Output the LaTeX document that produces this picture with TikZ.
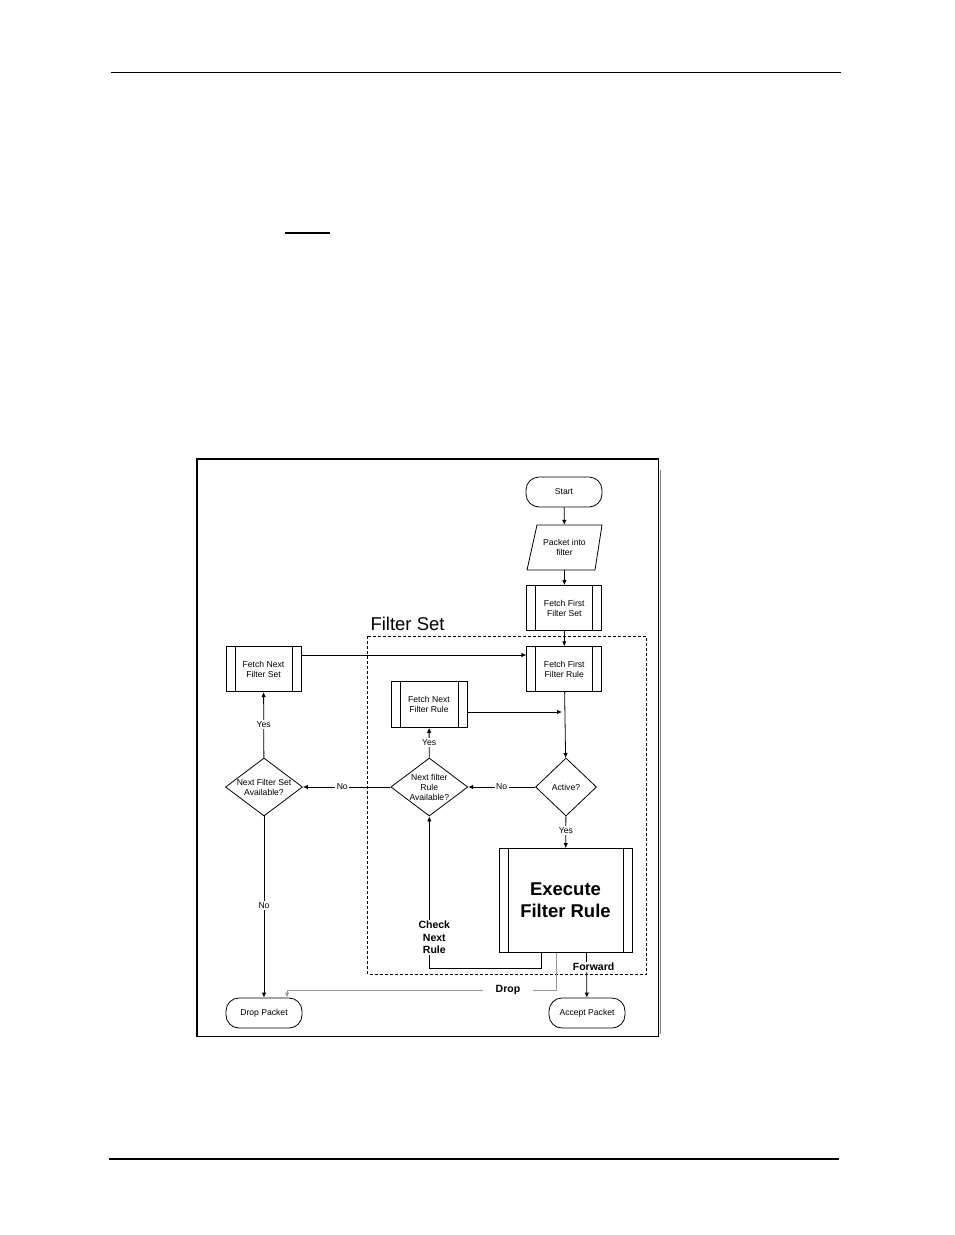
\documentclass[tikz,border=0pt]{standalone}
\usepackage{fontspec}
\setmainfont{Liberation Sans}
\usetikzlibrary{shapes.geometric,arrows.meta}
\tikzset{
  sm/.style={font=\fontsize{8.6}{10}\selectfont, align=center},
  conn/.style={draw=black, line width=0.8pt, -{Latex[length=5pt,width=4.5pt]}},
  term/.style={draw, line width=0.8pt, rounded corners=13pt, minimum width=76pt, minimum height=30pt, inner sep=0pt, sm},
  proc/.style={draw, line width=0.8pt, minimum width=75pt, minimum height=45pt, inner sep=0pt, sm,
    path picture={
      \draw[line width=0.8pt] ([xshift=9pt]path picture bounding box.north west) -- ([xshift=9pt]path picture bounding box.south west);
      \draw[line width=0.8pt] ([xshift=-9pt]path picture bounding box.north east) -- ([xshift=-9pt]path picture bounding box.south east);
    }},
  dia/.style={draw, diamond, line width=0.8pt, inner sep=0pt},
  lbl/.style={fill=white, inner sep=1.5pt, sm},
  blbl/.style={fill=white, inner sep=1pt, font=\fontsize{10.5}{12.5}\selectfont\bfseries, align=center},
}
\begin{document}
\begin{tikzpicture}[x=1pt,y=-1pt]
\useasboundingbox (0,0) rectangle (954,1235);
% page lines
\draw[line width=1.3pt] (111,72.5) -- (841,72.5);
\draw[line width=1.3pt] (109,1159) -- (839,1159);
\draw[line width=1.3pt] (285,233) -- (330,233);
% frame
\draw[gray, line width=1.2pt] (660.5,470) -- (660.5,1034);
\draw[line width=1.8pt] (197,459) rectangle (658.5,1036.5);
% dashed filter set
\draw[line width=0.6pt, dash pattern=on 3pt off 2pt] (367.5,636) rectangle (646,974);
\node[font=\fontsize{18.5}{20}\selectfont, anchor=base west] (fslabel) at (367,630) {Filter Set};
% nodes
\node[term] (start) at (564,492) {Start};
\node[sm, minimum width=70pt, minimum height=45pt, inner sep=0pt] (packet) at (564.5,547.5) {Packet into\\filter};
\draw[line width=0.8pt] (537,525) -- (602,525) -- (595,570) -- (527,570) -- cycle;
\node[proc] (ffs) at (564.3,608) {Fetch First\\Filter Set};
\node[proc] (ffr) at (564.3,669.2) {Fetch First\\Filter Rule};
\node[proc] (fns) at (263.5,669.2) {Fetch Next\\Filter Set};
\node[proc, minimum width=76pt, minimum height=46pt] (fnr) at (429,704.5) {Fetch Next\\Filter Rule};
\node[dia, minimum width=61pt, minimum height=58pt] (active) at (566,787) {};
\node[sm] (activet) at (566,787) {Active?};
\node[dia, minimum width=77pt, minimum height=58pt] (nra) at (429.3,787) {};
\node[sm] (nrat) at (429.3,787) {Next filter\\Rule\\Available?};
\node[dia, minimum width=77pt, minimum height=58pt] (nsa) at (264,787) {};
\node[sm] (nsat) at (264,787) {Next Filter Set\\Available?};
\node[proc, minimum width=133pt, minimum height=104pt, font=\fontsize{18.5}{22}\selectfont\bfseries] (exec) at (565.5,900.5) {Execute\\Filter Rule};
\node[term] (drop) at (264,1013) {Drop Packet};
\node[term] (accept) at (587,1013) {Accept Packet};
% coordinates
\coordinate (j1) at (565,712);
\coordinate (e1) at (541.5,952.5);
\coordinate (e2) at (556.5,952.5);
\coordinate (e3) at (586.5,952.5);
\coordinate (c1) at (541.5,968);
\coordinate (c2) at (429.3,968);
\coordinate (g1) at (556.5,990);
\coordinate (g2) at (287,990);
% connectors
\draw[conn] (start) -- (packet);
\draw[conn] (packet) -- (ffs);
\draw[conn] (ffs) -- (ffr);
\draw[conn] (fns.east |- 0,655) -- (ffr.west |- 0,655);
\draw[conn] (ffr) -- (active);
\draw[conn] (fnr.east |- j1) -- ([xshift=-3pt]j1);
\draw[conn] (active) -- node[lbl, pos=0.5] {No} (nra);
\draw[conn] (nra) -- node[lbl, pos=0.55] {No} (nsa);
\draw[conn] (nra) -- node[lbl, pos=0.5] {Yes} (fnr);
\draw[conn] (nsa) -- node[lbl, pos=0.5] {Yes} (fns);
\draw[conn] (nsa) -- node[lbl, pos=0.49] {No} (drop);
\draw[conn] (active) -- node[lbl, pos=0.45] {Yes} (exec);
\draw[conn] (e1) -- (c1) -- (c2) -- node[blbl, pos=0.2, xshift=5pt] (cnr) {Check\\Next\\Rule} (nra);
\draw[draw=gray!80, line width=0.8pt, -{Latex[length=5pt,width=4.5pt]}] (e2) -- (g1) -- node[blbl, pos=0.18, inner xsep=13pt] (droplbl) {Drop} (g2) -- (drop.north -| g2);
\draw[conn] (e3) -- node[blbl, pos=0.32, xshift=7pt] (fwd) {Forward} (accept);
\end{tikzpicture}
\end{document}
